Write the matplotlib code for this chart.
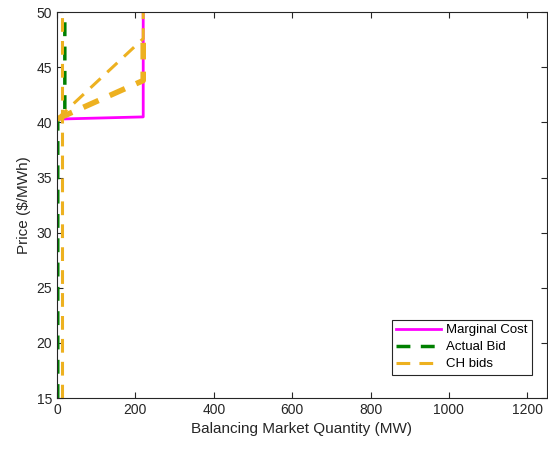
import matplotlib
matplotlib.use('Agg')
from matplotlib import pyplot as plt

# data
mc_q = [0, 220, 220]
mc_p = [40.3, 40.5, 50]

bid_q = [2, 2, 20, 20]
bid_p = [15, 40.3, 41.0, 50]

ch1_q = [12, 12]
ch1_p = [15, 50]
ch2_q = [0, 220, 220]
ch2_p = [40.3, 47.6, 50]
ch3_q = [0, 220, 220]
ch3_p = [40.3, 43.8, 47.6]

plt.rcParams['font.family'] = ['Liberation Sans', 'DejaVu Sans']
plt.rcParams['font.size'] = 10

fig = plt.figure(figsize=(5.48, 4.51), dpi=100)
ax = fig.add_axes([0.104, 0.1175, 0.894, 0.8555])

orange = '#EDB120'
ax.plot(mc_q, mc_p, color='#FF00FF', lw=2, label='Marginal Cost')
ax.plot(bid_q, bid_p, color='#008000', lw=2.5, ls=(0, (4, 3)), label='Actual Bid')
ax.plot(ch1_q, ch1_p, color=orange, lw=2.2, ls=(0, (4.5, 3)), label='CH bids')
ax.plot(ch2_q, ch2_p, color=orange, lw=2.2, ls=(0, (4.5, 3)))
ax.plot(ch3_q, ch3_p, color=orange, lw=4, ls=(0, (3, 2.2)))

ax.set_xlim(0, 1250)
ax.set_ylim(15, 50)
ax.set_xticks(range(0, 1201, 200))
ax.set_yticks(range(15, 51, 5))
ax.set_xlabel('Balancing Market Quantity (MW)', color='#262626', fontsize=11)
ax.set_ylabel('Price ($/MWh)', color='#262626', fontsize=11)
ax.tick_params(direction='in', top=True, right=True, colors='#262626', labelsize=10, length=4)
for s in ax.spines.values():
    s.set_color('#262626')
    s.set_linewidth(0.8)

leg = ax.legend(loc='lower right', fancybox=False, framealpha=1, edgecolor='#262626',
                fontsize=9.5, handlelength=3.4, borderpad=0.35, labelspacing=0.35,
                handletextpad=0.4, bbox_to_anchor=(0.984, 0.043))
leg.get_frame().set_linewidth(0.8)

fig.savefig('out.png', dpi=100)
